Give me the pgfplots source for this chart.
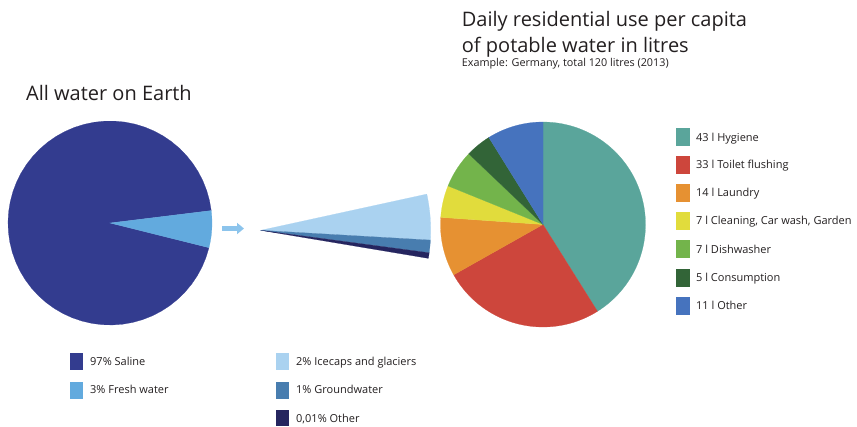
\documentclass[border=0pt]{standalone}
\usepackage{fontspec}
\setmainfont{Open Sans}
\usepackage{pgfplots}
\pgfplotsset{compat=1.18}
\usetikzlibrary{arrows.meta}
\definecolor{saline}{HTML}{333C8F}
\definecolor{fresh}{HTML}{62AADE}
\definecolor{ice}{HTML}{AAD2F0}
\definecolor{ground}{HTML}{487DAF}
\definecolor{othernavy}{HTML}{25255F}
\definecolor{arrowblue}{HTML}{8CC4EC}
\definecolor{hyg}{HTML}{5AA59B}
\definecolor{toil}{HTML}{CD463C}
\definecolor{laun}{HTML}{E69132}
\definecolor{clea}{HTML}{E1DC3C}
\definecolor{dish}{HTML}{73B44B}
\definecolor{cons}{HTML}{326437}
\definecolor{othr}{HTML}{4673BE}
\definecolor{txt}{HTML}{231F20}
% slice: centre x, centre y, radius, start angle, end angle, colour
\newcommand\slice[6]{\addplot[fill=#6, draw=#6, line width=0.2pt, mark=none, domain=#4:#5, samples=60, variable=\t] ({#1+#3*cos(\t)},{#2-#3*sin(\t)}) -- (axis cs:#1,#2) -- cycle;}
\newcommand\lab[4]{\node[anchor=base west, inner sep=0pt, text=txt, font=\fontsize{#3}{#3}\selectfont] at (axis cs:#1,#2) {#4};}
\begin{document}
\begin{tikzpicture}
\begin{axis}[x=1pt, y=1pt, xmin=0, xmax=857, ymin=0, ymax=426, y dir=reverse,
  hide axis, scale only axis, anchor=south west, at={(0,0)}, clip=false]
% ---- All water on Earth: 97% saline, 3% fresh (angles as drawn)
\slice{110}{223}{102}{7}{346}{saline}
\slice{110}{223}{102}{-14}{7}{fresh}
% ---- Fresh water: 2% icecaps, 1% groundwater, 0.01% other (wedge as drawn)
\slice{260.7}{230.3}{170}{-3.3}{12.3}{ice}
\slice{260.7}{230.3}{170}{-7.6}{-3.3}{ground}
\slice{260.7}{230.3}{170}{-9.5}{-7.6}{othernavy}
% ---- Daily use: 43, 33, 14, 7, 7, 5, 11 litres (angles as drawn)
\slice{543}{224.5}{102.5}{-57.9}{90}{hyg}
\slice{543}{224.5}{102.5}{-150.6}{-57.9}{toil}
\slice{543}{224.5}{102.5}{176}{209.4}{laun}
\slice{543}{224.5}{102.5}{157.9}{176}{clea}
\slice{543}{224.5}{102.5}{136.4}{157.9}{dish}
\slice{543}{224.5}{102.5}{121.9}{136.4}{cons}
\slice{543}{224.5}{102.5}{90}{121.9}{othr}
% arrow
\draw[arrowblue, line width=4.5pt, -{Triangle[width=11pt,length=7pt]}] (axis cs:222,228.5) -- (axis cs:244,228.5);
% legend squares right
\addplot[fill=hyg, draw=none] coordinates {(676,128.3) (689.5,128.3) (689.5,146.3) (676,146.3)} -- cycle;
\addplot[fill=toil, draw=none] coordinates {(676,156) (689.5,156) (689.5,174) (676,174)} -- cycle;
\addplot[fill=laun, draw=none] coordinates {(676,183.7) (689.5,183.7) (689.5,201.7) (676,201.7)} -- cycle;
\addplot[fill=clea, draw=none] coordinates {(676,211.7) (689.5,211.7) (689.5,229.7) (676,229.7)} -- cycle;
\addplot[fill=dish, draw=none] coordinates {(676,240.3) (689.5,240.3) (689.5,258.3) (676,258.3)} -- cycle;
\addplot[fill=cons, draw=none] coordinates {(676,268.7) (689.5,268.7) (689.5,286.7) (676,286.7)} -- cycle;
\addplot[fill=othr, draw=none] coordinates {(676,297) (689.5,297) (689.5,315) (676,315)} -- cycle;
% legend squares bottom
\addplot[fill=saline, draw=none] coordinates {(70,352.8) (82.7,352.8) (82.7,369.8) (70,369.8)} -- cycle;
\addplot[fill=fresh, draw=none] coordinates {(70,381.5) (82.7,381.5) (82.7,398.5) (70,398.5)} -- cycle;
\addplot[fill=ice, draw=none] coordinates {(276,352.8) (289.3,352.8) (289.3,369.8) (276,369.8)} -- cycle;
\addplot[fill=ground, draw=none] coordinates {(276,381.5) (289.3,381.5) (289.3,398.5) (276,398.5)} -- cycle;
\addplot[fill=othernavy, draw=none] coordinates {(276,409.8) (289.3,409.8) (289.3,426) (276,426)} -- cycle;
% texts
\lab{26}{100.5}{20}{All water on Earth}
\lab{461.7}{26.7}{20}{Daily residential use per capita}
\lab{461.7}{52.7}{20}{of potable water in litres}
\lab{461.7}{66.7}{10.8}{Example: Germany, total 120 litres (2013)}
\lab{696}{141.1}{11}{43 l Hygiene}
\lab{696}{168.8}{11}{33 l Toilet flushing}
\lab{696}{196.5}{11}{14 l Laundry}
\lab{696}{224.5}{11}{7 l Cleaning, Car wash, Garden}
\lab{696}{253.1}{11}{7 l Dishwasher}
\lab{696}{281.5}{11}{5 l Consumption}
\lab{696}{309.8}{11}{11 l Other}
\lab{90}{365.1}{11}{97\% Saline}
\lab{90}{393.8}{11}{3\% Fresh water}
\lab{296}{365.1}{11}{2\% Icecaps and glaciers}
\lab{296}{393.8}{11}{1\% Groundwater}
\lab{296}{422.1}{11}{0,01\% Other}
\end{axis}
\pgfresetboundingbox
\useasboundingbox (0,0) rectangle (857pt,426pt);
\end{tikzpicture}
\end{document}
